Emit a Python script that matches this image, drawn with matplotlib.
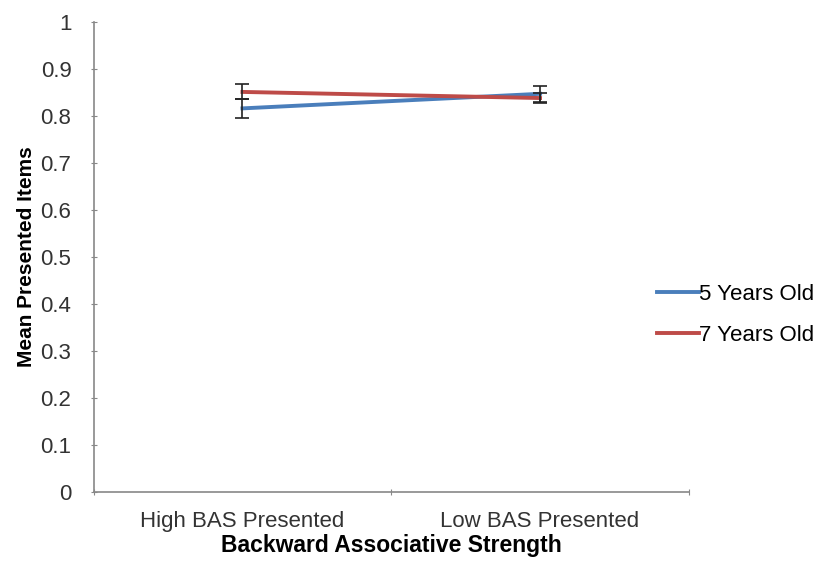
import numpy as np
import matplotlib.pyplot as plt

plt.rcParams['font.family'] = ['Liberation Sans', 'DejaVu Sans']

categories = ['High BAS Presented', 'Low BAS Presented']
series_names = ['5 Years Old', '7 Years Old']
means_5 = [0.816, 0.847]
errs_5 = [0.020, 0.017]
means_7 = [0.851, 0.838]
errs_7 = [0.016, 0.010]
colors = ['#4A7EBB', '#BE4B48']

fig = plt.figure(figsize=(8.22, 5.61), dpi=100)
ax = fig.add_axes([0.114, 0.123, 0.724, 0.838])

x = np.arange(len(categories)) + 0.5
for means, errs, name, col in zip([means_5, means_7], [errs_5, errs_7], series_names, colors):
    ax.plot(x, means, color=col, linewidth=2.8, label=name, zorder=2)
    ax.errorbar(x, means, yerr=errs, fmt='none', ecolor='#222222',
                elinewidth=1.2, capsize=5, capthick=1.2, zorder=3)

ax.set_xlim(0, len(categories))
ax.set_ylim(0, 1)
ax.set_yticks(np.arange(0, 1.01, 0.1))
ax.set_yticklabels(['0'] + ['%.1f' % v for v in np.arange(0.1, 0.95, 0.1)] + ['1'])
ax.set_xticks(np.arange(0, len(categories) + 1))
ax.set_xticklabels([])
ax.set_xticks(x, minor=True)
ax.set_xticklabels(categories, minor=True)
ax.tick_params(axis='x', which='minor', length=0, pad=14, labelsize=16, colors='#333333')
ax.tick_params(axis='x', which='major', length=5, direction='inout', color='#888888')
ax.tick_params(axis='y', length=4, direction='inout', color='#888888', labelsize=16,
               labelcolor='#333333', pad=14)

for s in ['top', 'right']:
    ax.spines[s].set_visible(False)
for s in ['left', 'bottom']:
    ax.spines[s].set_color('#888888')
    ax.spines[s].set_linewidth(1.2)

ax.set_xlabel('Backward Associative Strength', fontsize=16.5, fontweight='bold', labelpad=1)
ax.set_ylabel('Mean Presented Items', fontsize=15, fontweight='bold', labelpad=3)

ax.legend(loc='center left', bbox_to_anchor=(0.913, 0.377), frameon=False,
          fontsize=16, handlelength=1.9, handletextpad=0.0, labelspacing=0.9)

fig.savefig('out.png', dpi=100)
